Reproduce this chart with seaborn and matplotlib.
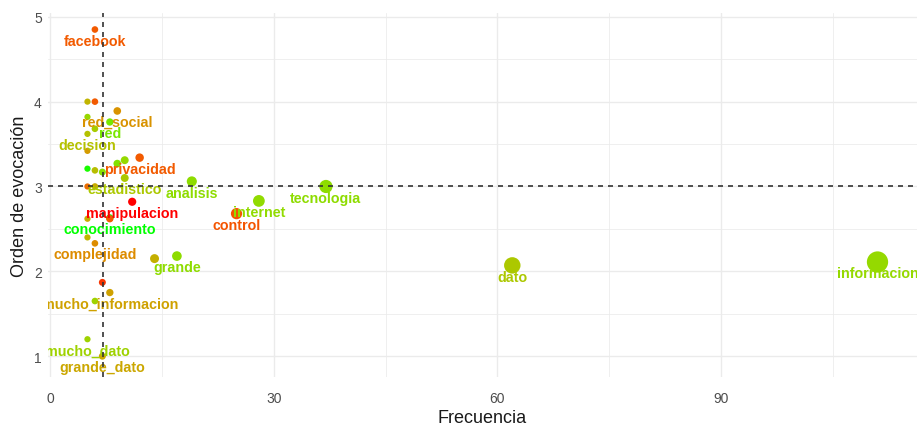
import numpy as np
import pandas as pd
import matplotlib
matplotlib.use("Agg")
import matplotlib.pyplot as plt
import seaborn as sns
from matplotlib.colors import LinearSegmentedColormap
from matplotlib.ticker import MultipleLocator

# palabras evocadas (las que no llevan etiqueta quedan vacias)
palabras = ["facebook", "", "", "red_social", "", "red", "", "decision", "",
            "", "privacidad", "", "", "", "", "estadistico", "", "",
            "analisis", "tecnologia", "manipulacion", "internet", "control",
            "conocimiento", "", "", "", "complejidad", "", "grande", "dato",
            "informacion", "", "mucho_informacion", "", "mucho_dato",
            "grande_dato"]
frecuencia = [6, 5, 6, 9, 5, 8, 6, 5, 5,
              10, 12, 9, 5, 6, 7, 10, 5, 6,
              19, 37, 11, 28, 25,
              8, 8, 5, 5, 6, 14, 17, 62,
              111, 7, 8, 6, 5,
              7]
orden = [4.85, 4.00, 4.00, 3.89, 3.82, 3.76, 3.68, 3.62, 3.42,
         3.31, 3.34, 3.27, 3.21, 3.19, 3.17, 3.10, 3.00, 3.00,
         3.06, 3.00, 2.82, 2.83, 2.68,
         2.63, 2.62, 2.62, 2.40, 2.33, 2.15, 2.18, 2.07,
         2.11, 1.87, 1.75, 1.65, 1.20,
         1.00]
# valoracion: 0 = rojo, 1 = verde
valoracion = [0.15, 0.55, 0.15, 0.38, 0.75, 0.85, 0.68, 0.62, 0.42,
              0.76, 0.15, 0.82, 0.97, 0.60, 0.80, 0.66, 0.22, 0.50,
              0.78, 0.78, 0.00, 0.77, 0.13,
              1.00, 0.15, 0.50, 0.55, 0.35, 0.52, 0.78, 0.66,
              0.76, 0.08, 0.45, 0.72, 0.72,
              0.48]

# puntos de corte (frecuencia media y orden medio de evocacion)
corte_frecuencia = 7.1
corte_orden = 3.0

df = pd.DataFrame({"palabra": palabras, "freq": frecuencia,
                   "orden": orden, "val": valoracion})

# gradiente rojo -> verde (interpolado en Lab, como ggplot)
cmap = LinearSegmentedColormap.from_list(
    "rojo_verde",
    ["#FF0000", "#F45300", "#E87600", "#DA9200", "#C8AB00",
     "#B3C200", "#98D700", "#70EB00", "#00FF00"])

# tamano: diametro en px crece con la raiz de la frecuencia
tamanos = {f: (0.72 * (2.2 + 1.81 * np.sqrt(f))) ** 2 for f in sorted(set(frecuencia))}

fuente = ["Liberation Sans", "DejaVu Sans"]

fig = plt.figure(figsize=(9.17, 4.27), dpi=100)
ax = fig.add_axes([0.0523, 0.1138, 0.9477, 0.8525])

sns.scatterplot(data=df, x="freq", y="orden", hue="val", palette=cmap,
                hue_norm=(0, 1), size="freq", sizes=tamanos, linewidth=0,
                legend=False, ax=ax, zorder=3)

for _, r in df.iterrows():
    if r["palabra"]:
        ax.annotate(r["palabra"], (r["freq"], r["orden"]), xytext=(0, -8),
                    textcoords="offset points", ha="center", va="center",
                    color=cmap(r["val"]), fontsize=10.3, fontweight="bold",
                    family=fuente, clip_on=True, zorder=4,
                    annotation_clip=True)

ax.axvline(corte_frecuencia, color="#333333", lw=1.2, ls=(0, (3, 3)), zorder=5)
ax.axhline(corte_orden, color="#333333", lw=1.2, ls=(0, (3, 3)), zorder=5)

ax.set_xlim(-0.3, 116.3)
ax.set_ylim(0.75, 5.04)
ax.xaxis.set_major_locator(MultipleLocator(30))
ax.xaxis.set_minor_locator(MultipleLocator(15))
ax.yaxis.set_major_locator(MultipleLocator(1))
ax.yaxis.set_minor_locator(MultipleLocator(0.5))
ax.grid(which="major", color="#EBEBEB", lw=1.0, zorder=0)
ax.grid(which="minor", color="#EBEBEB", lw=0.55, zorder=0)
ax.set_axisbelow(True)
for s in ax.spines.values():
    s.set_visible(False)
ax.tick_params(which="both", length=0)
ax.tick_params(axis="x", pad=10, labelsize=10, labelcolor="#4D4D4D")
ax.tick_params(axis="y", pad=4.5, labelsize=10, labelcolor="#4D4D4D")
for t in ax.get_xticklabels() + ax.get_yticklabels():
    t.set_family(fuente)

ax.set_xlabel("Frecuencia", fontsize=13, labelpad=3, color="#1A1A1A", family=fuente)
ax.set_ylabel("Orden de evocación", fontsize=13, labelpad=4, color="#1A1A1A", family=fuente)

fig.savefig("out.png", dpi=100)
